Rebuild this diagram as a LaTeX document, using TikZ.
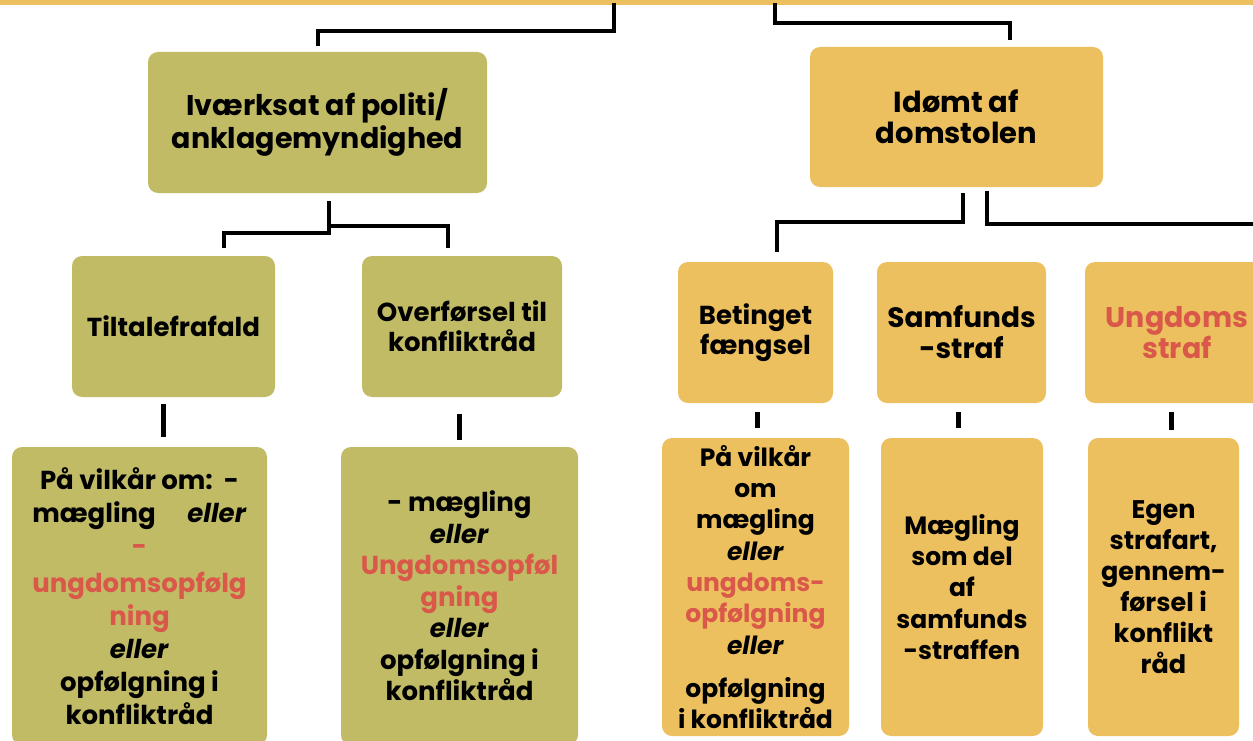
\documentclass[tikz,border=0pt]{standalone}
\usepackage{fontspec}
\setmainfont{Poppins}
\definecolor{olivebox}{HTML}{C1BB66}
\definecolor{yellowbox}{HTML}{ECC05F}
\definecolor{redtext}{HTML}{D9584A}
\begin{document}
\begin{tikzpicture}[x=1pt,y=-1pt,
  box/.style={rounded corners=10pt, align=center, inner sep=2pt},
  olivebx/.style={box, fill=olivebox},
  yellowbx/.style={box, fill=yellowbox},
  fs/.style 2 args={font=\bfseries\fontsize{#1}{#2}\selectfont},
  conn/.style={line width=4.5pt, line cap=rect, line join=miter},
  tick/.style={line width=5pt}]
\clip (0,0) rectangle (1253,741);
\fill[white] (0,0) rectangle (1253,741);
% top band
\node[fill=yellowbox, minimum width=1253pt, minimum height=5pt, inner sep=0pt, anchor=north west] (bar) at (0,0) {};

% level 1
\node[olivebx, minimum width=339pt, minimum height=141pt, fs={28.5}{33}] (A) at (317.5,122.5)
  {Iværksat af politi/\\anklagemyndighed};
\node[yellowbx, minimum width=293pt, minimum height=140pt, fs={29}{31}] (B) at (956.5,117)
  {Idømt af\\domstolen};

% level 2
\node[olivebx, minimum width=203pt, minimum height=141pt, fs={26}{30}] (T) at (173.5,326.5)
  {Tiltalefrafald};
\node[olivebx, minimum width=200pt, minimum height=141pt, fs={26}{30}] (O) at (462,326.5)
  {Overførsel til\\konfliktråd};
\node[yellowbx, minimum width=155pt, minimum height=141pt, fs={26}{30}] (BF) at (755.5,332.5)
  {Betinget\\fængsel};
\node[yellowbx, minimum width=169pt, minimum height=141pt, fs={28}{31}] (SS) at (961.5,332.5)
  {Samfunds\\-straf};
\node[yellowbx, minimum width=184pt, minimum height=141pt, text=redtext, fs={28.5}{31}] (US) at (1177,332.5)
  {Ungdoms\\straf};

% level 3
\node[olivebx, minimum width=255pt, minimum height=298pt, fs={26}{33}] (L1) at (139.5,596)
  {På vilkår om:\ \ -\\mægling\quad\ \textit{eller}\\
   \textcolor{redtext}{-}\\[4pt]\textcolor{redtext}{ungdomsopfølg}\\\textcolor{redtext}{ning}\\
   \textit{eller}\\opfølgning i\\konfliktråd};
\node[olivebx, minimum width=237pt, minimum height=298pt, fs={26}{31.5}] (L2) at (459.5,596)
  {- mægling\\\textit{eller}\\\textcolor{redtext}{Ungdomsopføl}\\
   \textcolor{redtext}{gning}\\\textit{eller}\\opfølgning i\\konfliktråd};
\node[yellowbx, minimum width=187pt, minimum height=298pt, fs={25}{31.3}] (R1) at (755.5,587)
  {På vilkår\\om\\mægling\\\textit{eller}\\
   \textcolor{redtext}{ungdoms-}\\\textcolor{redtext}{opfølgning}\\\textit{eller}\\[12pt]
   opfølgning\\i konfliktråd};
\node[yellowbx, minimum width=162pt, minimum height=298pt, fs={25}{31.3}] (R2) at (962,587)
  {Mægling\\som del\\af\\samfunds\\-straffen};
\node[yellowbx, minimum width=151pt, minimum height=298pt, fs={25.5}{31}] (R3) at (1163.5,587)
  {Egen\\strafart,\\gennem-\\førsel i\\konflikt\\råd};

\coordinate (offR) at (1262,224);
% connectors top
\draw[conn] (bar.south -| 614,0) -- (614,31) -| ([yshift=8pt]A.north -| 318,0);
\draw[conn] (bar.south -| 775,0) -- (775,23) -| ([yshift=9pt]B.north -| 1010,0);
% from A
\draw[conn] ([yshift=-10pt]A.south -| 329,0) -- (329,233) -| ([yshift=10pt]T.north -| 224,0);
\draw[conn] (329,226) -| ([yshift=10pt]O.north -| 448,0);
% from B
\draw[conn] ([yshift=-8pt]B.south -| 963,0) -- (963,222) -| ([yshift=12pt]BF.north -| 777,0);
\draw[conn] ([yshift=-6pt]B.south -| 987,0) |- (offR);
% ticks
\draw[tick] ([yshift=-7pt]T.south -| 163,0) -- ([yshift=10pt]L1.north -| 163,0);
\draw[tick] ([yshift=-17pt]O.south -| 459,0) -- ([yshift=7pt]L2.north -| 459,0);
\draw[tick] ([yshift=-9pt]BF.south -| 757,0) -- ([yshift=10pt]R1.north -| 757,0);
\draw[tick] ([yshift=-9pt]SS.south -| 958,0) -- ([yshift=10pt]R2.north -| 958,0);
\draw[tick] ([yshift=-9pt]US.south -| 1171,0) -- ([yshift=8pt]R3.north -| 1171,0);
\end{tikzpicture}
\end{document}
